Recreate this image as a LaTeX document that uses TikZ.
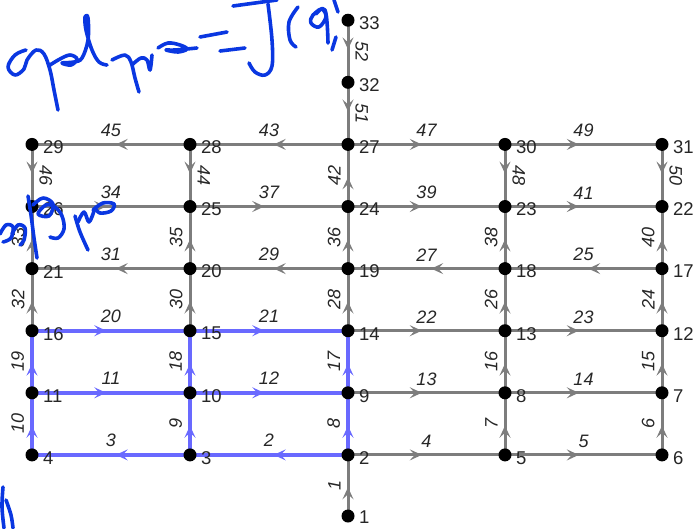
\documentclass[tikz,border=0pt]{standalone}
\usepackage{fontspec}
\setmainfont{Liberation Sans}
\usetikzlibrary{arrows.meta,decorations.markings}
\definecolor{edgegray}{RGB}{125,125,125}
\definecolor{hiblue}{RGB}{105,105,255}
\definecolor{ink}{RGB}{10,55,225}
\definecolor{labtext}{RGB}{38,38,38}
\tikzset{
  dot/.style={circle,fill=black,inner sep=0pt,minimum size=13pt},
  nlab/.style={font=\fontsize{18.5}{18.5}\selectfont,text=labtext,inner sep=0pt,yshift=-3pt},
  elab/.style={font=\fontsize{18}{18}\selectfont\itshape,text=labtext,inner sep=6pt,anchor=south},
  hl/.style={elab},
  ul/.style={elab,rotate=90},
  dl/.style={elab,rotate=-90},
  gedge/.style={draw=edgegray,line width=3pt,postaction={decorate},
    decoration={markings,mark=at position 0.47 with {\arrow{Stealth[length=12pt,width=11pt,inset=5pt]}}}},
  bedge/.style={draw=hiblue,line width=4pt,postaction={decorate},
    decoration={markings,mark=at position 0.47 with {\arrow{Stealth[length=12pt,width=11pt,inset=5pt]}}}},
  scrib/.style={draw=ink,line width=3.6pt,line cap=round,line join=round}
}
\begin{document}
\begin{tikzpicture}[x=1pt,y=-1pt]
\useasboundingbox (0,0) rectangle (696,528);
% node coordinates
\foreach \n/\x/\y in {
 1/348/516,
 4/32/454.9, 3/190/454.9, 2/348/454.9, 5/505/454.9, 6/662/454.9,
 11/32/392.8, 10/190/392.8, 9/348/392.8, 8/505/392.8, 7/662/392.8,
 16/32/330.7, 15/190/330.7, 14/348/330.7, 13/505/330.7, 12/662/330.7,
 21/32/268.6, 20/190/268.6, 19/348/268.6, 18/505/268.6, 17/662/268.6,
 26/32/206.5, 25/190/206.5, 24/348/206.5, 23/505/206.5, 22/662/206.5,
 29/32/144.4, 28/190/144.4, 27/348/144.4, 30/505/144.4, 31/662/144.4,
 32/348/82.3, 33/348/20.2}
 { \coordinate (p\n) at (\x,\y); }
% gray edges
\foreach \a/\b/\l/\s in {
 1/2/1/ul, 2/5/4/hl, 5/6/5/hl, 6/7/6/ul, 5/8/7/ul,
 9/8/13/hl, 8/7/14/hl, 7/12/15/ul, 8/13/16/ul,
 14/13/22/hl, 13/12/23/hl, 12/17/24/ul, 17/18/25/hl, 13/18/26/ul,
 18/19/27/hl, 14/19/28/ul, 19/20/29/hl, 15/20/30/ul, 20/21/31/hl,
 16/21/32/ul, 21/26/33/ul, 26/25/34/hl, 20/25/35/ul, 19/24/36/ul,
 25/24/37/hl, 18/23/38/ul, 24/23/39/hl, 17/22/40/ul, 23/22/41/hl,
 24/27/42/ul, 27/28/43/hl, 28/25/44/dl, 28/29/45/hl, 29/26/46/dl,
 27/30/47/hl, 30/23/48/dl, 30/31/49/hl, 31/22/50/dl, 32/27/51/dl,
 33/32/52/dl}
 { \path[gedge] (p\a) -- (p\b) node[midway,\s] (e\l) {\l}; }
% highlighted edges
\foreach \a/\b/\l/\s in {
 2/3/2/hl, 3/4/3/hl, 2/9/8/ul, 3/10/9/ul, 4/11/10/ul,
 11/10/11/hl, 10/9/12/hl, 9/14/17/ul, 10/15/18/ul, 11/16/19/ul,
 16/15/20/hl, 15/14/21/hl}
 { \path[bedge] (p\a) -- (p\b) node[midway,\s] (e\l) {\l}; }
% nodes
\foreach \n in {2,...,33}
 { \node[dot] (n\n) at (p\n) {};
   \node[nlab,anchor=west] (t\n) at ([xshift=11pt]p\n) {\n}; }
\node[dot] (n1) at (p1) {};
\node[nlab,anchor=west,yshift=1.5pt] (t1) at ([xshift=11pt]p1) {1};
% handwritten ink
\draw[scrib] plot[smooth,tension=0.6] coordinates {(26,50) (15,55) (8,67) (15,75) (24,69) (27,60) (36,50) (44,54) (50,70) (54,90) (58,110)};
\draw[scrib] plot[smooth,tension=0.6] coordinates {(50,65) (60,59) (70,55) (77,59) (71,65) (62,63) (74,62) (82,58) (88,40) (88,18) (85,17) (86,30) (92,50) (99,62) (107,65)};
\draw[scrib] plot[smooth,tension=0.6] coordinates {(112,60) (125,55) (131,62) (135,78) (139,92)};
\draw[scrib] plot[smooth,tension=0.6] coordinates {(133,64) (141,58) (147,60) (150,70) (152,55)};
\draw[scrib] plot[smooth,tension=0.6] coordinates {(158,48) (168,43) (180,45) (187,49) (178,52) (166,50) (175,50) (197,48)};
\draw[scrib] (200,37) -- (227,32);
\draw[scrib] (220,51) -- (245,48);
\draw[scrib] plot[smooth,tension=0.6] coordinates {(233,6) (255,3) (277,0)};
\draw[scrib] plot[smooth,tension=0.6] coordinates {(268,4) (272,40) (272,66) (265,75) (255,72) (249,63)};
\draw[scrib] plot[smooth,tension=0.6] coordinates {(298,7) (289,22) (290,40) (296,47)};
\draw[scrib] plot[smooth,tension=0.6] coordinates {(316,14) (322,9) (326,17) (319,27) (311,23) (313,15) (325,10) (328,43)};
\draw[scrib] (336,37) -- (332,50);
\draw[scrib] (334,0) -- (338,12);
\draw[scrib] plot[smooth,tension=0.6] coordinates {(0,234) (6,225) (13,227) (11,238) (3,242)};
\draw[scrib] plot[smooth,tension=0.6] coordinates {(12,234) (18,225) (25,228) (24,240) (20,245)};
\draw[scrib] plot[smooth,tension=0.6] coordinates {(28,196) (31,215) (34,238) (37,258)};
\draw[scrib] plot[smooth,tension=0.6] coordinates {(33,205) (43,198) (53,204) (49,216) (38,214) (46,205) (55,207) (62,216) (64,229) (58,238) (50,237)};
\draw[scrib] plot[smooth,tension=0.6] coordinates {(75,216) (80,232) (88,250)};
\draw[scrib] plot[smooth,tension=0.6] coordinates {(78,222) (84,212) (89,222) (94,211)};
\draw[scrib] plot[smooth,tension=0.6] coordinates {(93,210) (103,203) (114,204) (111,211) (100,213) (95,208)};
\draw[scrib] plot[smooth,tension=0.6] coordinates {(3,487) (2,507) (4,528)};
\draw[scrib] plot[smooth,tension=0.6] coordinates {(6,500) (11,515) (13,528)};
\end{tikzpicture}
\end{document}
